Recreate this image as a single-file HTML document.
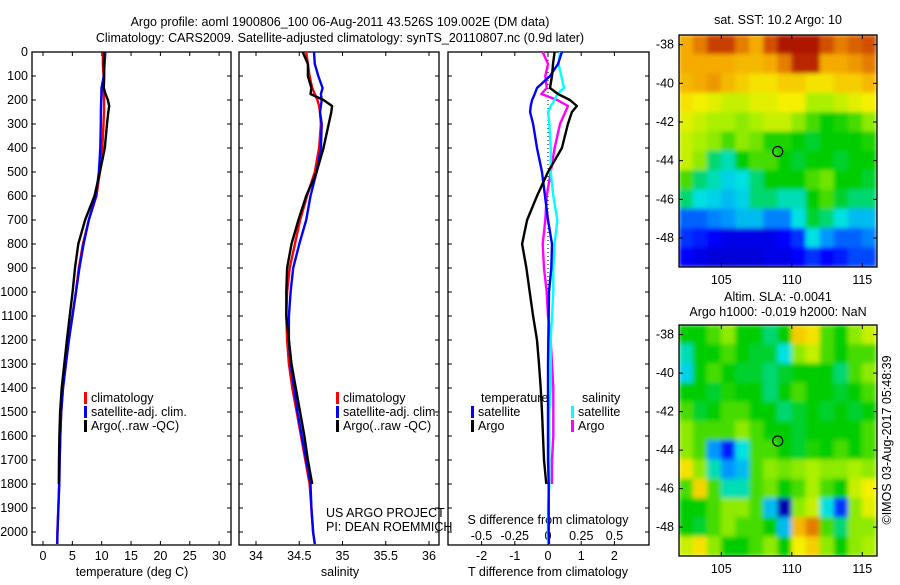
<!DOCTYPE html>
<html><head><meta charset="utf-8"><style>
body{margin:0;background:#fff}
svg text{font-family:"Liberation Sans",sans-serif;font-size:12.5px;fill:#000}
</style></head><body>
<svg id="c" width="900" height="580" xmlns="http://www.w3.org/2000/svg">
<defs>
<clipPath id="cp1"><rect x="679" y="35" width="198" height="232"/></clipPath>
<clipPath id="cp2"><rect x="679" y="325" width="198" height="231"/></clipPath>
<filter id="bl" x="0" y="0" width="1" height="1"><feGaussianBlur stdDeviation="2.5"/></filter>
<filter id="bl1" x="0" y="0" width="1" height="1"><feGaussianBlur stdDeviation="2"/></filter>
</defs>
<text x="340" y="26" text-anchor="middle">Argo profile: aoml 1900806_100 06-Aug-2011 43.526S 109.002E (DM data)</text>
<text x="340" y="42" text-anchor="middle">Climatology: CARS2009. Satellite-adjusted climatology: synTS_20110807.nc (0.9d later)</text>
<text x="778" y="24" text-anchor="middle" font-size="12">sat. SST: 10.2 Argo: 10</text>
<text x="778" y="301" text-anchor="middle" font-size="12">Altim. SLA: -0.0041</text>
<text x="778" y="316" text-anchor="middle" font-size="12">Argo h1000: -0.019 h2000: NaN</text>
<text transform="translate(891,440) rotate(-90)" text-anchor="middle" font-size="12">©IMOS 03-Aug-2017 05:48:39</text>
<text x="326" y="517">US ARGO PROJECT</text>
<text x="326" y="531">PI: DEAN ROEMMICH</text>
<g id="g"></g>
</svg>
<script>
const depths=[0,50,100,150,175,200,225,250,300,400,500,600,700,800,900,1000,1100,1200,1300,1400,1500,1600,1700,1800,1900,2000,2050];
const tClim=[10.2,10.2,10.3,10.3,10.35,10.4,10.4,10.4,10.3,10.1,9.7,9.1,7.8,6.8,6.1,5.6,5.0,4.4,3.9,3.4,3.1,2.95,2.85,2.75,2.6,2.45,2.4];
const tArgoDiff=[0.2,0.15,0.12,0.06,0.3,0.66,0.87,0.72,0.6,0.42,0,-0.33,-0.63,-0.78,-0.65,-0.55,-0.45,-0.33,-0.27,-0.22,-0.18,-0.15,-0.12,-0.05,null,null,null];
const tSatDiff=[0.42,0.3,0.06,-0.33,-0.4,-0.48,-0.52,-0.54,-0.45,-0.33,-0.18,-0.09,0,0.12,0.1,0.03,0.02,0.01,0,0,0,0,0,0.02,0.02,0.02,0.03];
const sClim=[34.58,34.6,34.62,34.65,34.68,34.71,34.73,34.74,34.75,34.73,34.68,34.59,34.51,34.45,34.39,34.36,34.35,34.36,34.38,34.42,34.47,34.52,34.57,34.62,34.64,34.66,34.68];
const sSatDiff=[0.09,0.08,0.1,0.12,0.07,0.05,0.02,0,0.01,0.02,0.02,0.04,0.07,0.05,0.04,0.04,0.03,0.02,0.02,0.02,0.01,0.01,0.01,0.01,0,0,0];
const sArgoDiff=[-0.04,0,-0.02,-0.01,-0.05,0.07,0.15,0.13,0.09,0.05,0.02,-0.01,-0.02,-0.04,-0.03,-0.01,0,0.02,0.03,0.04,0.04,0.04,0.03,0.03,null,null,null];
const depthTicks=[0,100,200,300,400,500,600,700,800,900,1000,1100,1200,1300,1400,1500,1600,1700,1800,1900,2000];
const tTicks=[0,5,10,15,20,25,30];
const sTicks=[34,34.5,35,35.5,36];
const tdTicks=[-2,-1,0,1,2];
const sdTicks=[-0.5,-0.25,0,0.25,0.5];
const sdTickLabels=["-0.5","-0.25","0","0.25","0.5"];
const sstGrid=[
[0.8,0.85,0.92,0.92,0.85,0.8,0.9,0.97,0.97,0.97,0.9,0.85,0.88,0.9],
[0.8,0.8,0.8,0.8,0.78,0.78,0.8,0.85,0.95,0.95,0.8,0.8,0.82,0.85],
[0.78,0.8,0.82,0.78,0.75,0.72,0.72,0.75,0.75,0.72,0.72,0.75,0.75,0.78],
[0.72,0.7,0.68,0.65,0.65,0.68,0.68,0.7,0.7,0.62,0.62,0.65,0.68,0.7],
[0.68,0.65,0.62,0.62,0.6,0.62,0.65,0.65,0.6,0.55,0.5,0.52,0.55,0.6],
[0.65,0.62,0.6,0.55,0.6,0.58,0.52,0.52,0.5,0.48,0.5,0.5,0.5,0.52],
[0.65,0.6,0.45,0.42,0.5,0.55,0.55,0.5,0.48,0.5,0.5,0.48,0.5,0.5],
[0.55,0.45,0.42,0.38,0.4,0.45,0.5,0.5,0.5,0.55,0.58,0.5,0.5,0.48],
[0.45,0.4,0.38,0.35,0.38,0.45,0.45,0.42,0.42,0.5,0.55,0.48,0.45,0.45],
[0.25,0.25,0.28,0.3,0.35,0.35,0.28,0.28,0.4,0.48,0.45,0.4,0.35,0.35],
[0.2,0.18,0.15,0.12,0.12,0.12,0.12,0.15,0.2,0.4,0.3,0.25,0.25,0.28],
[0.15,0.12,0.1,0.1,0.1,0.1,0.12,0.12,0.15,0.2,0.15,0.18,0.22,0.22]];
const slaGrid=[
[0.5,0.5,0.55,0.6,0.5,0.5,0.45,0.5,0.75,0.72,0.55,0.5,0.6,0.65],
[0.42,0.5,0.5,0.55,0.5,0.48,0.48,0.4,0.6,0.65,0.55,0.5,0.55,0.55],
[0.38,0.5,0.55,0.5,0.48,0.48,0.45,0.48,0.5,0.5,0.5,0.45,0.55,0.6],
[0.5,0.5,0.48,0.52,0.5,0.5,0.45,0.5,0.55,0.5,0.5,0.48,0.5,0.55],
[0.55,0.48,0.5,0.55,0.55,0.5,0.5,0.45,0.48,0.5,0.48,0.5,0.48,0.5],
[0.6,0.55,0.55,0.55,0.6,0.55,0.5,0.5,0.48,0.5,0.5,0.5,0.5,0.55],
[0.6,0.55,0.3,0.18,0.4,0.55,0.55,0.5,0.48,0.52,0.5,0.55,0.5,0.55],
[0.72,0.6,0.42,0.3,0.35,0.55,0.6,0.58,0.6,0.62,0.6,0.6,0.62,0.6],
[0.55,0.74,0.55,0.42,0.42,0.55,0.58,0.5,0.55,0.62,0.55,0.5,0.65,0.7],
[0.5,0.5,0.55,0.6,0.6,0.55,0.35,0.05,0.6,0.65,0.4,0.2,0.6,0.68],
[0.5,0.48,0.55,0.6,0.55,0.55,0.5,0.35,0.78,0.85,0.55,0.45,0.6,0.6],
[0.65,0.72,0.6,0.5,0.5,0.55,0.6,0.5,0.7,0.75,0.6,0.5,0.6,0.62]];
const latTicks=[-38,-40,-42,-44,-46,-48];
const lonTicks=[105,110,115];
const argoLon=109.002, argoLat=-43.526;

const NS='http://www.w3.org/2000/svg', G=document.getElementById('g');
function el(t,a,p){const e=document.createElementNS(NS,t);for(const k in a)e.setAttribute(k,a[k]);(p||G).appendChild(e);return e;}
function txt(x,y,s,anc,p){const e=el('text',{x:x,y:y,'text-anchor':anc||'middle'},p);e.textContent=s;return e;}
const Y=d=>52+d*0.24;
const xT=v=>43+v*5.87, xS=v=>256+(v-34)*86.5, xTD=v=>548+v*33.2, xSD=v=>548+v*133;
const panels=[[32,231],[239,439],[448,649]];
panels.forEach((p,i)=>{
 const r=el('rect',{x:p[0],y:52,width:p[1]-p[0],height:493,fill:'none',stroke:'#000','stroke-width':1.3});
 
 
});
depthTicks.forEach(d=>{
 panels.forEach(p=>{el('line',{x1:p[0],x2:p[0]+4,y1:Y(d),y2:Y(d),stroke:'#000'});el('line',{x1:p[1],x2:p[1]-4,y1:Y(d),y2:Y(d),stroke:'#000'});});
 const t=txt(28,Y(d)+4,String(d),'end');
 
 
});
function xticks(arr,f,p,labels,ly){arr.forEach((v,i)=>{const x=f(v);el('line',{x1:x,x2:x,y1:545,y2:541,stroke:'#000'});el('line',{x1:x,x2:x,y1:52,y2:56,stroke:'#000'});
 if(ly){const t=txt(x,ly,labels?labels[i]:String(v));}});}
xticks(tTicks,xT,0,null,560);xticks(sTicks,xS,1,null,560);xticks(tdTicks,xTD,2,null,560);
sdTicks.forEach((v,i)=>{const t=txt(xSD(v),540,sdTickLabels[i]);});
[[132,'temperature (deg C)','x-axis-title-temperature'],[340,'salinity','x-axis-title-salinity'],[548,'T difference from climatology','x-axis-title-t-diff']].forEach(a=>{const t=txt(a[0],576,a[1]);});
const sdt=txt(548,524,'S difference from climatology');
el('line',{x1:548,x2:548,y1:52,y2:545,stroke:'#000','stroke-dasharray':'1,3'});
function line(vals,fx,col,name,w){let pts=[];vals.forEach((v,i)=>{if(v!==null)pts.push(fx(v).toFixed(1)+','+Y(depths[i]).toFixed(1));});
 const e=el('polyline',{points:pts.join(' '),fill:'none',stroke:col,'stroke-width':w||2.4,'stroke-linejoin':'round'});
 
 }
const tSat=tClim.map((v,i)=>v+tSatDiff[i]), tArgo=tClim.map((v,i)=>tArgoDiff[i]===null?null:v+tArgoDiff[i]);
const sSat=sClim.map((v,i)=>v+sSatDiff[i]), sArgo=sClim.map((v,i)=>sArgoDiff[i]===null?null:v+sArgoDiff[i]);
line(tClim,xT,'#f00','temperature-climatology-line');line(tSat,xT,'#00f','temperature-satellite-line');line(tArgo,xT,'#000','temperature-argo-line');
line(sClim,xS,'#f00','salinity-climatology-line');line(sSat,xS,'#00f','salinity-satellite-line');line(sArgo,xS,'#000','salinity-argo-line');
line(sArgoDiff,xSD,'#f0f','s-diff-argo-line');line(sSatDiff,xSD,'#0ff','s-diff-satellite-line');
line(tSatDiff,xTD,'#00f','t-diff-satellite-line');line(tArgoDiff,xTD,'#000','t-diff-argo-line');
function leg(x,y,col,s,name){el('rect',{x:x-4,y:y-10,width:3,height:12,fill:col});const t=txt(x+3,y,s,'start');}
[[88],[340]].forEach((a,i)=>{leg(a[0],402,'#f00','climatology','legend-climatology');leg(a[0],416,'#00f','satellite-adj. clim.','legend-satellite-adj');leg(a[0],430,'#000','Argo(..raw -QC)','legend-argo');});
txt(481,402,'temperature','start');
leg(475,416,'#00f','satellite','legend-t-satellite');leg(475,430,'#000','Argo','legend-t-argo');
txt(582,402,'salinity','start');
leg(575,416,'#0ff','satellite','legend-s-satellite');leg(575,430,'#f0f','Argo','legend-s-argo');

const stops=[[0,[0,0,140]],[0.15,[0,0,255]],[0.3,[0,150,255]],[0.4,[0,225,225]],[0.5,[0,205,0]],[0.62,[170,240,0]],[0.7,[245,240,0]],[0.8,[245,170,0]],[0.9,[210,80,0]],[1,[160,0,0]]];
function cmap(v){for(let i=1;i<stops.length;i++){if(v<=stops[i][0]){const a=stops[i-1],b=stops[i],t=(v-a[0])/(b[0]-a[0]);return 'rgb('+a[1].map((c,k)=>Math.round(c+(b[1][k]-c)*t)).join(',')+')';}}return 'rgb(160,0,0)';}
function map(grid,top,h,clip,filt,name){
 const lx=l=>679+(l-102)*14.1, ly=la=>top+(-37.5-la)*(h/12);
 const g=el('g',{'clip-path':'url(#'+clip+')'});const gi=el('g',{filter:'url(#'+filt+')'},g);
 
 
 grid.forEach((row,r)=>row.forEach((v,c)=>{el('rect',{x:lx(102+c)-0.3,y:ly(-37.5-r)-0.3,width:14.8,height:h/12+0.8,fill:cmap(v)},gi);}));
 el('rect',{x:679,y:top,width:198,height:h,fill:'none',stroke:'#000','stroke-width':1.3});
 latTicks.forEach(la=>{const y=ly(la);el('line',{x1:679,x2:683,y1:y,y2:y,stroke:'#000'});el('line',{x1:877,x2:873,y1:y,y2:y,stroke:'#000'});
  const t=txt(674,y+4,String(la),'end');});
 lonTicks.forEach(lo=>{const x=lx(lo);el('line',{x1:x,x2:x,y1:top,y2:top+4,stroke:'#000'});el('line',{x1:x,x2:x,y1:top+h,y2:top+h-4,stroke:'#000'});
  const t=txt(x,top+h+17,String(lo));});
 const m=el('circle',{cx:lx(argoLon),cy:ly(argoLat),r:5,fill:'none',stroke:'#000','stroke-width':1.2});
 
 
}
map(sstGrid,35,232,'cp1','bl1','sst-map');
map(slaGrid,325,231,'cp2','bl','sla-map');
</script>
</body></html>
